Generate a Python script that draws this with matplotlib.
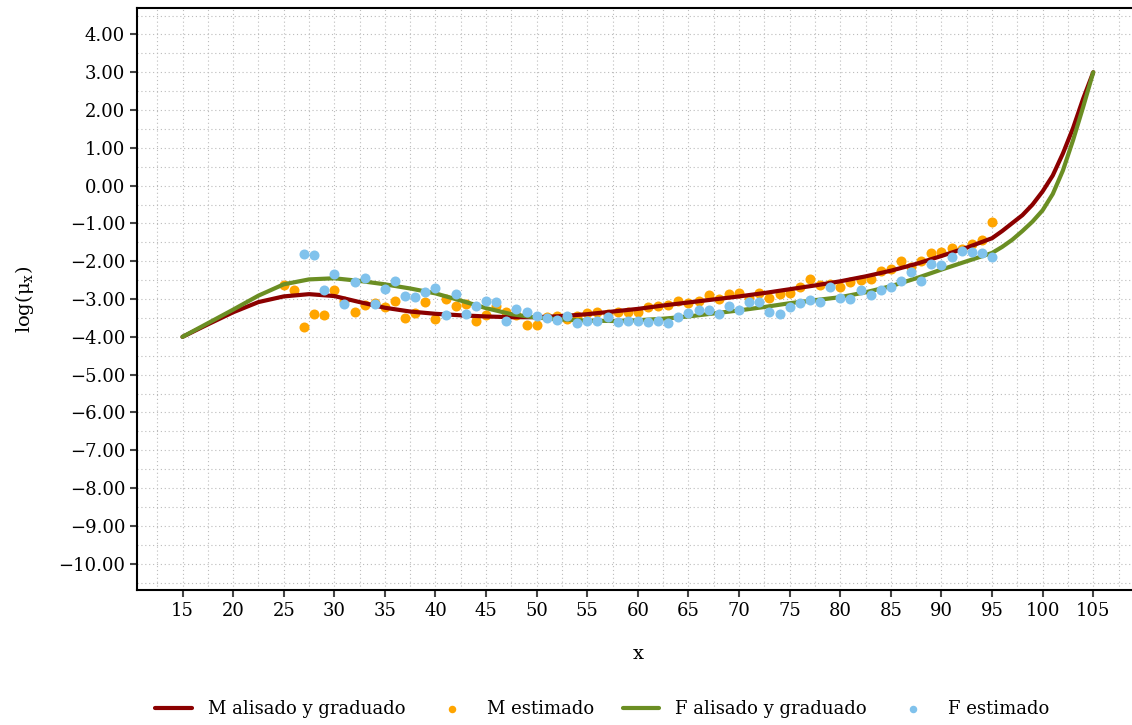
import numpy as np
import matplotlib
matplotlib.use('Agg')
import matplotlib.pyplot as plt
from matplotlib.ticker import MultipleLocator, FuncFormatter

plt.rcParams['font.family'] = ['DejaVu Serif']
plt.rcParams['mathtext.fontset'] = 'dejavuserif'

# Smoothed / graduated curves (log mu_x)
curve_x = [15, 17.5, 20, 22.5, 25, 27.5, 30, 32.5, 35, 37.5, 40, 42.5, 45, 47.5,
           50, 52.5, 55, 57.5, 60, 62.5, 65, 67.5, 70, 72.5, 75, 77.5, 80, 82.5,
           85, 87.5, 90, 92.5, 95, 96, 97, 98, 99, 100, 101, 102, 103, 104, 105]
m_smooth = [-4.00, -3.67, -3.35, -3.08, -2.93, -2.87, -2.92, -3.08, -3.23, -3.33,
            -3.39, -3.43, -3.46, -3.48, -3.48, -3.45, -3.40, -3.33, -3.26, -3.17,
            -3.09, -3.01, -2.93, -2.84, -2.74, -2.64, -2.53, -2.40, -2.25, -2.07,
            -1.86, -1.64, -1.39, -1.20, -0.99, -0.78, -0.50, -0.15, 0.27, 0.85,
            1.52, 2.30, 3.00]
f_smooth = [-4.00, -3.64, -3.28, -2.91, -2.61, -2.48, -2.45, -2.52, -2.61, -2.72,
            -2.85, -3.04, -3.24, -3.40, -3.49, -3.54, -3.57, -3.58, -3.56, -3.52,
            -3.46, -3.38, -3.30, -3.21, -3.11, -3.03, -2.95, -2.82, -2.66, -2.45,
            -2.22, -2.00, -1.78, -1.62, -1.43, -1.20, -0.95, -0.65, -0.22, 0.40,
            1.20, 2.08, 3.00]

# Raw estimates
m_ages = list(range(25, 96))
m_est = [-2.64, -2.77, -3.75, -3.40, -3.41, -2.75, -3.05, -3.34, -3.16, -3.10,
         -3.21, -3.04, -3.50, -3.37, -3.07, -3.52, -3.00, -3.18, -3.12, -3.58,
         -3.43, -3.19, -3.35, -3.42, -3.68, -3.68, -3.47, -3.46, -3.53, -3.45,
         -3.37, -3.33, -3.39, -3.33, -3.33, -3.33, -3.22, -3.19, -3.17, -3.04,
         -3.11, -3.04, -2.90, -2.99, -2.87, -2.84, -2.97, -2.84, -2.97, -2.86,
         -2.83, -2.67, -2.46, -2.62, -2.60, -2.67, -2.55, -2.49, -2.47, -2.27,
         -2.20, -1.99, -2.14, -1.99, -1.79, -1.76, -1.65, -1.68, -1.55, -1.45,
         -0.95]
f_ages = list(range(27, 96))
f_est = [-1.81, -1.83, -2.77, -2.34, -3.13, -2.56, -2.45, -3.13, -2.73, -2.53,
         -2.93, -2.95, -2.81, -2.70, -3.43, -2.86, -3.40, -3.19, -3.04, -3.07,
         -3.59, -3.26, -3.34, -3.46, -3.50, -3.56, -3.44, -3.63, -3.59, -3.59,
         -3.48, -3.61, -3.59, -3.59, -3.61, -3.57, -3.63, -3.48, -3.37, -3.30,
         -3.30, -3.40, -3.19, -3.28, -3.08, -3.08, -3.33, -3.39, -3.21, -3.11,
         -3.02, -3.08, -2.68, -2.97, -3.00, -2.77, -2.89, -2.77, -2.68, -2.53,
         -2.29, -2.52, -2.07, -2.09, -1.90, -1.73, -1.76, -1.79, -1.90]

fig = plt.figure(figsize=(11.32, 7.25), dpi=100)
ax = fig.add_axes([0.121, 0.186, 0.885, 0.803])

ax.scatter(m_ages, m_est, s=52, color='#FFA500', linewidths=0, zorder=3,
           label='M estimado')
ax.plot(curve_x, m_smooth, color='#8B0000', lw=3.0, zorder=4,
        solid_capstyle='round', solid_joinstyle='round',
        label='M alisado y graduado')
ax.plot(curve_x, f_smooth, color='#6B8E23', lw=3.0, zorder=5,
        solid_capstyle='round', solid_joinstyle='round',
        label='F alisado y graduado')
ax.scatter(f_ages, f_est, s=52, color='#80C2EC', linewidths=0, zorder=6,
           label='F estimado')

ax.set_xlim(10.5, 109.5)
ax.set_ylim(-10.7, 4.7)
ax.xaxis.set_major_locator(MultipleLocator(5))
ax.xaxis.set_minor_locator(MultipleLocator(2.5))
ax.yaxis.set_major_locator(MultipleLocator(1))
ax.yaxis.set_minor_locator(MultipleLocator(0.5))
ax.yaxis.set_major_formatter(FuncFormatter(lambda v, p: f'{v:.2f}'.replace('-', '\u2212')))

ax.grid(which='both', color='#bbbbbb', linestyle=(0, (1, 2.5)), linewidth=0.8)
ax.set_axisbelow(True)
ax.tick_params(which='major', direction='out', length=5, width=1.5, color='#444444',
               labelsize=13, labelcolor='black')
ax.tick_params(which='minor', length=0)

for s in ['left', 'bottom', 'top']:
    ax.spines[s].set_linewidth(1.5)
    ax.spines[s].set_color('black')
ax.spines['right'].set_visible(False)

ax.set_xlabel('x', fontsize=14, labelpad=18)
ax.set_ylabel(r'log(μ$_\mathrm{x}$)', fontsize=14, labelpad=16)

handles, labels = ax.get_legend_handles_labels()
order = [labels.index(l) for l in ['M alisado y graduado', 'M estimado',
                                   'F alisado y graduado', 'F estimado']]
fig.legend([handles[i] for i in order], [labels[i] for i in order],
           loc='center', bbox_to_anchor=(0.532, 0.022), ncol=4, frameon=False,
           fontsize=13, handlelength=2.0, handletextpad=0.9, columnspacing=1.6,
           markerscale=0.75)

fig.savefig('out.png', dpi=100)
